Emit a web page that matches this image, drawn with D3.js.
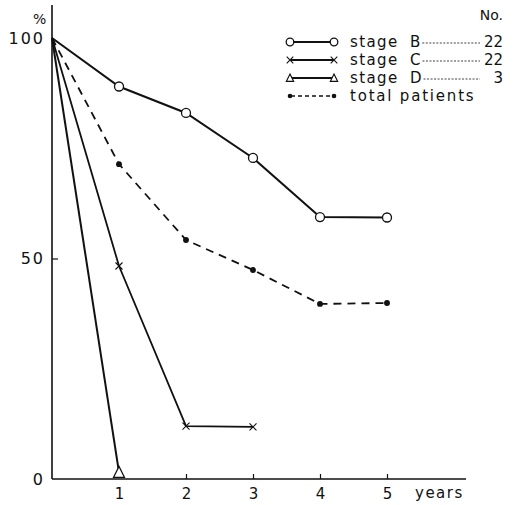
<!DOCTYPE html>
<html>
<head>
<meta charset="utf-8">
<script src="https://cdn.jsdelivr.net/npm/d3@7"></script>
<style>
  body { margin: 0; background: #fff; }
  svg { display: block; font-family: "DejaVu Sans", sans-serif; }
  text { fill: #111; }
</style>
</head>
<body>
<script>
// survival (%) by year after diagnosis
var years = [0, 1, 2, 3, 4, 5];
var stageB = [100, 89, 83, 72.8, 59.4, 59.3];
var stageC = [100, 48.3, 12, 11.8];
var stageD = [100, 1.5];
var totalPatients = [100, 71.4, 54.2, 47.4, 39.7, 39.9];
var xTicks = [1, 2, 3, 4, 5];
var yTicks = [0, 50, 100];
var legendNames = ["stage", "stage", "stage", "total patients"];
var legendLetters = ["B", "C", "D", ""];
var legendCounts = ["22", "22", "3", ""];

var W = 521, H = 505;
var svg = d3.select("body").append("svg").attr("width", W).attr("height", H);

var x = d3.scaleLinear().domain([0, 5]).range([52, 387]);
var y = d3.scaleLinear().domain([0, 100]).range([479, 38]);

// axes
svg.append("line").attr("x1", x(0)).attr("x2", x(0)).attr("y1", 5).attr("y2", y(0))
  .style("stroke", "#111").style("stroke-width", 1.6);
svg.append("line").attr("x1", x(0)).attr("x2", 466).attr("y1", y(0)).attr("y2", y(0))
  .style("stroke", "#111").style("stroke-width", 1.6);

var xAxis = d3.axisBottom(x).tickValues(xTicks).tickSize(0).tickPadding(9).tickFormat(d3.format("d"));
var gx = svg.append("g").attr("transform", "translate(0," + y(0) + ")").call(xAxis);
gx.select(".domain").remove();
gx.selectAll("text").style("font-size", "15px").style("fill", "#111").style("font-family", "DejaVu Sans, sans-serif");
gx.selectAll(".tick").filter(function(d){ return d > 1; }).append("line")
  .attr("y1", 0).attr("y2", -5).style("stroke", "#111").style("stroke-width", 1.2);

var yAxis = d3.axisLeft(y).tickValues(yTicks).tickSize(0).tickPadding(7);
var gy = svg.append("g").attr("transform", "translate(" + x(0) + ",0)").call(yAxis);
gy.select(".domain").remove();
gy.selectAll("text").style("font-size", "16px").style("fill", "#111").style("letter-spacing", "2px")
  .style("font-family", "DejaVu Sans, sans-serif");
gy.selectAll(".tick").filter(function(d){ return d == 50; }).append("line")
  .attr("x1", 0).attr("x2", 6).style("stroke", "#111").style("stroke-width", 1.2);

svg.append("text").attr("x", 33).attr("y", 24).style("font-size", "14px").text("%");
svg.append("text").attr("x", 415).attr("y", y(0) + 19).style("font-size", "15px").style("letter-spacing", "1.5px").text("years");

var line = d3.line().x(function(d, i){ return x(years[i]); }).y(function(d){ return y(d); });

svg.append("path").datum(stageB).attr("d", line)
  .style("fill", "none").style("stroke", "#111").style("stroke-width", 2);
svg.append("path").datum(stageC).attr("d", line)
  .style("fill", "none").style("stroke", "#111").style("stroke-width", 1.8);
svg.append("path").datum(stageD).attr("d", line)
  .style("fill", "none").style("stroke", "#111").style("stroke-width", 2);
svg.append("path").datum(totalPatients).attr("d", line)
  .style("fill", "none").style("stroke", "#111").style("stroke-width", 1.8).style("stroke-dasharray", "8,6");

// markers
function circleMark(g, cx, cy, r){
  g.append("circle").attr("cx", cx).attr("cy", cy).attr("r", r)
    .style("fill", "#fff").style("stroke", "#111").style("stroke-width", 1.3);
}
function crossMark(g, cx, cy, r){
  g.append("path").attr("d", "M" + (cx-r) + "," + (cy-r) + "L" + (cx+r) + "," + (cy+r) + "M" + (cx-r) + "," + (cy+r) + "L" + (cx+r) + "," + (cy-r))
    .style("stroke", "#111").style("stroke-width", 1.1);
}
function triMark(g, cx, cy, r){
  g.append("path").attr("d", "M" + cx + "," + (cy-r*1.2) + "L" + (cx+r*1.1) + "," + (cy+r) + "L" + (cx-r*1.1) + "," + (cy+r) + "Z")
    .style("fill", "#fff").style("stroke", "#111").style("stroke-width", 1.2);
}
function dotMark(g, cx, cy, r){
  g.append("circle").attr("cx", cx).attr("cy", cy).attr("r", r * 0.7).style("fill", "#111");
}

stageB.forEach(function(d, i){ if(i > 0) circleMark(svg, x(years[i]), y(d), 4.5); });
stageC.forEach(function(d, i){ if(i > 0) crossMark(svg, x(years[i]), y(d), 3.5); });
stageD.forEach(function(d, i){ if(i > 0) triMark(svg, x(years[i]), y(d), 5); });
totalPatients.forEach(function(d, i){ if(i > 0) dotMark(svg, x(years[i]), y(d), 4.2); });

// legend
var marks = [circleMark, crossMark, triMark, dotMark];
svg.append("text").attr("x", 503).attr("y", 20).attr("text-anchor", "end").style("font-size", "14px").text("No.");
legendNames.forEach(function(name, i){
  var ly = 42 + i * 18;
  var g = svg.append("g");
  var ln = g.append("line").attr("x1", 291).attr("x2", 333).attr("y1", ly).attr("y2", ly)
    .style("stroke", "#111").style("stroke-width", i == 3 ? 1.5 : 2);
  if(i == 3) ln.style("stroke-dasharray", "4,3");
  marks[i](g, 290, ly, i == 0 ? 3.8 : 3.3);
  marks[i](g, 334, ly, i == 0 ? 3.8 : 3.3);
  g.append("text").attr("x", 350).attr("y", ly + 5).style("font-size", "15px")
    .style("letter-spacing", i == 3 ? "1.8px" : "1.4px").text(name);
  if(legendCounts[i] != ""){
    var lt = g.append("text").attr("x", 410).attr("y", ly + 5).style("font-size", "15px").text(legendLetters[i]);
    var tx = 410 + lt.node().getComputedTextLength();
    g.append("line").attr("x1", tx + 2).attr("x2", 480).attr("y1", ly + 1).attr("y2", ly + 1)
      .style("stroke", "#111").style("stroke-width", 0.8).style("stroke-dasharray", "2,1.5");
    g.append("text").attr("x", 503).attr("y", ly + 5).attr("text-anchor", "end").style("font-size", "15px").text(legendCounts[i]);
  }
});
</script>
</body>
</html>
